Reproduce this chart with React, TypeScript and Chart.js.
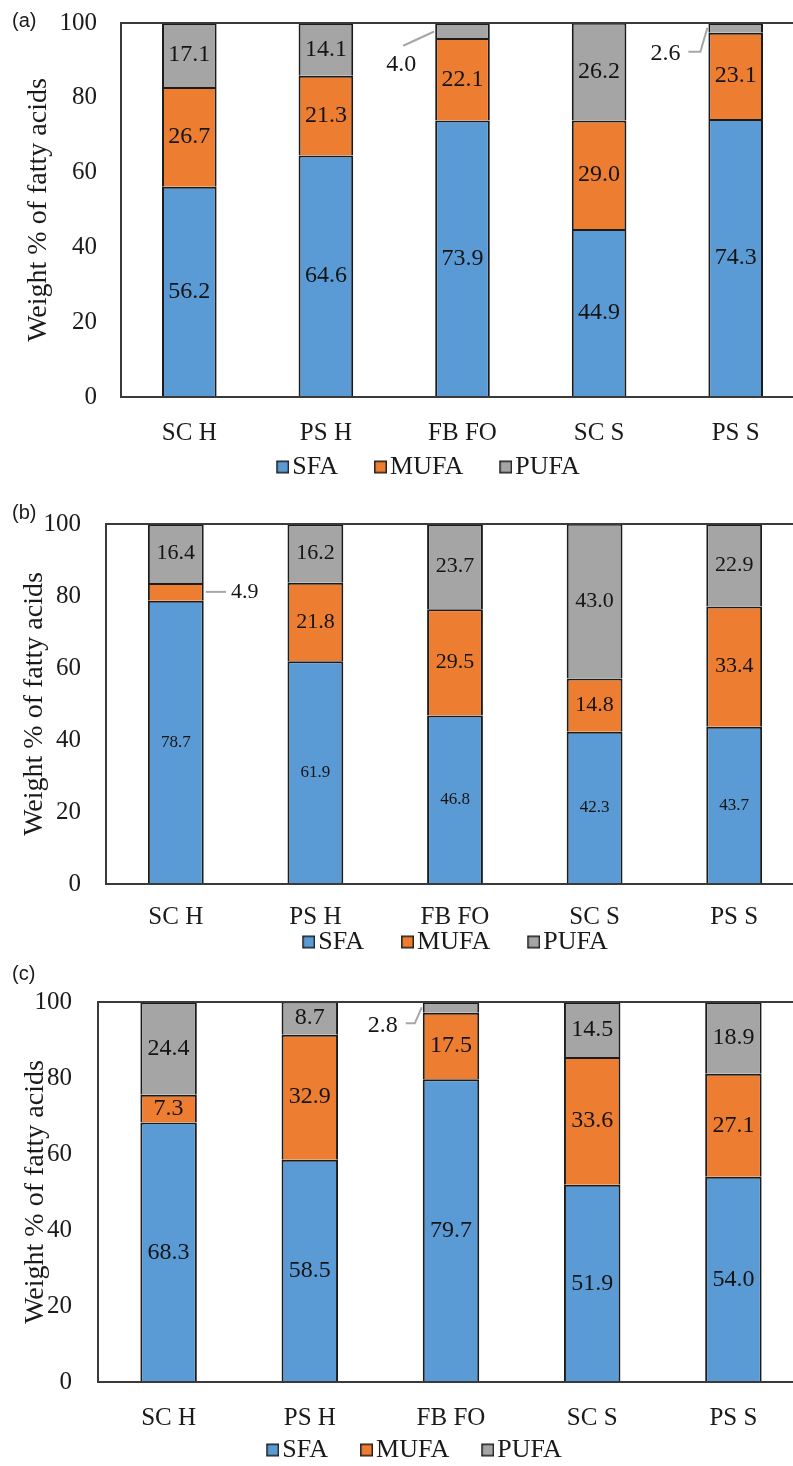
import React, { useEffect, useRef } from 'react';
import { Chart, registerables } from 'chart.js';

Chart.register(...registerables);

// ---------- data ----------
const categories = ['SC H', 'PS H', 'FB FO', 'SC S', 'PS S'];
const seriesNames = ['SFA', 'MUFA', 'PUFA'];
const yTickValues = [0, 20, 40, 60, 80, 100];

const sfaA = [56.2, 64.6, 73.9, 44.9, 74.3];
const mufaA = [26.7, 21.3, 22.1, 29.0, 23.1];
const pufaA = [17.1, 14.1, 4.0, 26.2, 2.6];

const sfaB = [78.7, 61.9, 46.8, 42.3, 43.7];
const mufaB = [4.9, 21.8, 29.5, 14.8, 33.4];
const pufaB = [16.4, 16.2, 23.7, 43.0, 22.9];

const sfaC = [68.3, 58.5, 79.7, 51.9, 54.0];
const mufaC = [7.3, 32.9, 17.5, 33.6, 27.1];
const pufaC = [24.4, 8.7, 2.8, 14.5, 18.9];

// ---------- styles ----------
const COLORS = ['#5B9BD5', '#ED7D31', '#A5A5A5'];
const BORDER = '#1c1c1c';
const SERIF = "'Liberation Serif', 'Times New Roman', serif";
const SANS = "'Liberation Sans', Arial, sans-serif";
const CANVAS_W = 840;
const TICK_FONT = 25;
const LEGEND_FONT = 26;
const TITLE_FONT = 28;
const PAD_TOP = 48;
const SWATCH = 13; // legend square
const SWATCH_GAP = 3; // square -> text

type Callout = {
  ds: number;
  i: number;
  side: 'left' | 'right';
  dx: number;
  dy: number;
  style: 'diag' | 'elbow' | 'flat';
};

type Panel = {
  tag: string;
  tagY: number;
  series: number[][];
  area: { left: number; right: number; top: number; bottom: number };
  legendFull: boolean;
  legendCenter: number;
  legendY: number;
  legendGap: number;
  xLabelY: number;
  yTickGap: number;
  titleX: number;
  labelSizes: number[];
  callouts: Callout[];
};

const panels: Panel[] = [
  {
    tag: '(a)',
    tagY: 20,
    series: [sfaA, mufaA, pufaA],
    area: { left: 121, right: 804, top: 23, bottom: 397 },
    legendFull: true,
    legendCenter: 428,
    legendY: 467,
    legendGap: 36,
    xLabelY: 433,
    yTickGap: 24,
    titleX: 39,
    labelSizes: [24, 24, 24],
    callouts: [
      { ds: 2, i: 2, side: 'left', dx: -34, dy: 34, style: 'diag' },
      { ds: 2, i: 4, side: 'left', dx: -43, dy: 26, style: 'elbow' },
    ],
  },
  {
    tag: '(b)',
    tagY: 512,
    series: [sfaB, mufaB, pufaB],
    area: { left: 106, right: 804, top: 524, bottom: 884 },
    legendFull: false,
    legendCenter: 455,
    legendY: 942,
    legendGap: 37,
    xLabelY: 917,
    yTickGap: 25,
    titleX: 35,
    labelSizes: [17, 22, 22],
    callouts: [{ ds: 1, i: 0, side: 'right', dx: 41, dy: 0, style: 'flat' }],
  },
  {
    tag: '(c)',
    tagY: 973,
    series: [sfaC, mufaC, pufaC],
    area: { left: 98, right: 804, top: 1002, bottom: 1382 },
    legendFull: true,
    legendCenter: 414,
    legendY: 1450,
    legendGap: 32,
    xLabelY: 1418,
    yTickGap: 26,
    titleX: 36,
    labelSizes: [24, 24, 24],
    callouts: [{ ds: 2, i: 2, side: 'left', dx: -40, dy: 18, style: 'elbow' }],
  },
];

function geometry(p: Panel) {
  const padRight = CANVAS_W - p.area.right;
  const padLeft = p.legendFull ? 2 * p.legendCenter - p.area.right : 0;
  const yWidth = p.area.left - padLeft;
  const top = p.area.top - PAD_TOP;
  const xTickPad = p.xLabelY - p.area.bottom - (TICK_FONT * 1.2) / 2;
  const xH = xTickPad + TICK_FONT * 1.2 + 4;
  const legendH = LEGEND_FONT + p.legendGap + 10;
  const height = PAD_TOP + (p.area.bottom - p.area.top) + xH + legendH;
  const legendTop = p.legendY - LEGEND_FONT / 2 - p.legendGap - top;
  const titlePad = p.titleX - padLeft - TITLE_FONT / 2;
  return { padRight, padLeft, yWidth, top, xH, height, xTickPad, titlePad, legendTop };
}

// Excel-like legend square: drawn on the right part of a small canvas so that
// the text sits close to the square.
const pointW = SWATCH + SWATCH_GAP - LEGEND_FONT / 2;
function makeSwatch(color: string): HTMLCanvasElement {
  const w = 2 * (SWATCH - pointW / 2);
  const c = document.createElement('canvas');
  c.width = Math.round(w);
  c.height = SWATCH + 2;
  const g = c.getContext('2d')!;
  const x0 = c.width - SWATCH;
  g.fillStyle = color;
  g.fillRect(x0 + 0.75, 1.75, SWATCH - 1.5, SWATCH - 1.5);
  g.strokeStyle = BORDER;
  g.lineWidth = 1.5;
  g.strokeRect(x0 + 0.75, 1.75, SWATCH - 1.5, SWATCH - 1.5);
  return c;
}

const plotBorder = {
  id: 'plotBorder',
  afterDatasetsDraw(chart: any) {
    const { ctx, chartArea: a } = chart;
    ctx.save();
    ctx.strokeStyle = '#3a3a3a';
    ctx.lineWidth = 2;
    ctx.strokeRect(a.left, a.top, a.right - a.left, a.bottom - a.top);
    ctx.restore();
  },
};

// place the legend row at its own height, below the category labels
const legendPlacer = {
  id: 'legendPlacer',
  afterLayout(chart: any, _args: any, opts: any) {
    const lg = chart.legend;
    if (!lg || opts.top == null) return;
    const h = lg.bottom - lg.top;
    lg.top = opts.top;
    lg.bottom = opts.top + h;
  },
};

const segmentLabels = {
  id: 'segmentLabels',
  afterDraw(chart: any, _args: any, opts: any) {
    const panel: Panel = opts.panel;
    if (!panel) return;
    const { ctx } = chart;
    ctx.save();
    ctx.textAlign = 'center';
    ctx.textBaseline = 'middle';
    chart.data.datasets.forEach((ds: any, d: number) => {
      const meta = chart.getDatasetMeta(d);
      const size = panel.labelSizes[d];
      ctx.font = `${size}px ${SERIF}`;
      meta.data.forEach((el: any, i: number) => {
        const { x, y, base, width } = el.getProps(['x', 'y', 'base', 'width'], true);
        const text = Number(ds.data[i]).toFixed(1);
        const segY = (y + base) / 2;
        const c = panel.callouts.find((k) => k.ds === d && k.i === i);
        ctx.fillStyle = '#141414';
        if (!c) {
          ctx.fillText(text, x, segY);
          return;
        }
        const edgeX = c.side === 'left' ? x - width / 2 : x + width / 2;
        const lx = edgeX + c.dx;
        const ly = segY + c.dy;
        const tw = ctx.measureText(text).width;
        ctx.fillText(text, lx, ly);
        ctx.strokeStyle = '#a6a6a6';
        ctx.lineWidth = 2;
        ctx.beginPath();
        if (c.style === 'flat') {
          const sgn = c.side === 'right' ? 1 : -1;
          ctx.moveTo(edgeX + sgn * 2, segY);
          ctx.lineTo(lx - sgn * (tw / 2 + 5), segY);
        } else if (c.style === 'diag') {
          ctx.moveTo(edgeX - 1, segY + 1);
          ctx.lineTo(lx + 2, ly - size * 0.78);
        } else {
          const yy = ly - 2;
          ctx.moveTo(lx + tw / 2 + 8, yy);
          ctx.lineTo(edgeX - 8, yy);
          ctx.lineTo(edgeX - 1, segY);
        }
        ctx.stroke();
      });
    });
    ctx.restore();
  },
};

function makeConfig(p: Panel): any {
  const g = geometry(p);
  const swatches = COLORS.map(makeSwatch);
  return {
    type: 'bar',
    data: {
      labels: categories,
      datasets: seriesNames.map((name, k) => ({
        label: name,
        data: p.series[k],
        backgroundColor: COLORS[k],
        borderColor: BORDER,
        borderWidth: 2,
        categoryPercentage: 1,
        barPercentage: 0.4,
      })),
    },
    options: {
      responsive: false,
      animation: false,
      events: [],
      layout: { padding: { left: g.padLeft, right: g.padRight, top: PAD_TOP, bottom: 0 } },
      scales: {
        x: {
          stacked: true,
          grid: { display: false, drawTicks: false },
          border: { display: false },
          ticks: {
            font: { family: SERIF, size: TICK_FONT },
            color: '#1a1a1a',
            padding: g.xTickPad,
            maxRotation: 0,
            autoSkip: false,
          },
          afterFit: (s: any) => {
            s.height = g.xH;
          },
        },
        y: {
          stacked: true,
          min: 0,
          max: 100,
          afterBuildTicks: (s: any) => {
            s.ticks = yTickValues.map((v) => ({ value: v }));
          },
          grid: { display: false, drawTicks: false },
          border: { display: false },
          ticks: {
            font: { family: SERIF, size: TICK_FONT },
            color: '#1a1a1a',
            padding: p.yTickGap,
          },
          title: {
            display: true,
            text: 'Weight % of fatty acids',
            font: { family: SERIF, size: TITLE_FONT, lineHeight: 1 },
            color: '#1a1a1a',
            padding: { top: g.titlePad, bottom: 0 },
          },
          afterFit: (s: any) => {
            s.width = g.yWidth;
          },
        },
      },
      plugins: {
        legend: {
          position: 'bottom',
          fullSize: p.legendFull,
          labels: {
            font: { family: SERIF, size: LEGEND_FONT },
            color: '#1a1a1a',
            usePointStyle: true,
            pointStyleWidth: pointW,
            boxHeight: SWATCH,
            padding: p.legendGap,
            generateLabels: (chart: any) => {
              const items = Chart.defaults.plugins.legend.labels.generateLabels(chart);
              items.forEach((it: any, k: number) => {
                it.pointStyle = swatches[k % swatches.length];
              });
              return items;
            },
          },
        },
        tooltip: { enabled: false },
        legendPlacer: { top: g.legendTop },
        segmentLabels: { panel: p },
      },
    },
    plugins: [plotBorder, legendPlacer, segmentLabels],
  };
}

function PanelChart({ panel }: { panel: Panel }) {
  const ref = useRef<HTMLCanvasElement | null>(null);
  const g = geometry(panel);
  const h = Math.round(g.height);
  useEffect(() => {
    if (!ref.current) return;
    const chart = new Chart(ref.current, makeConfig(panel));
    return () => chart.destroy();
  }, [panel]);
  return (
    <>
      <canvas
        ref={ref}
        width={CANVAS_W}
        height={h}
        style={{ position: 'absolute', left: 0, top: g.top, width: CANVAS_W, height: h }}
      />
      <div
        style={{
          position: 'absolute',
          left: 12,
          top: panel.tagY - 11,
          fontFamily: SANS,
          fontSize: 20,
          lineHeight: '22px',
          color: '#1a1a1a',
        }}
      >
        {panel.tag}
      </div>
    </>
  );
}

export default function App() {
  return (
    <div
      style={{
        position: 'absolute',
        left: 0,
        top: 0,
        width: 793,
        height: 1466,
        overflow: 'hidden',
        background: '#ffffff',
      }}
    >
      {panels.map((p) => (
        <PanelChart key={p.tag} panel={p} />
      ))}
    </div>
  );
}
